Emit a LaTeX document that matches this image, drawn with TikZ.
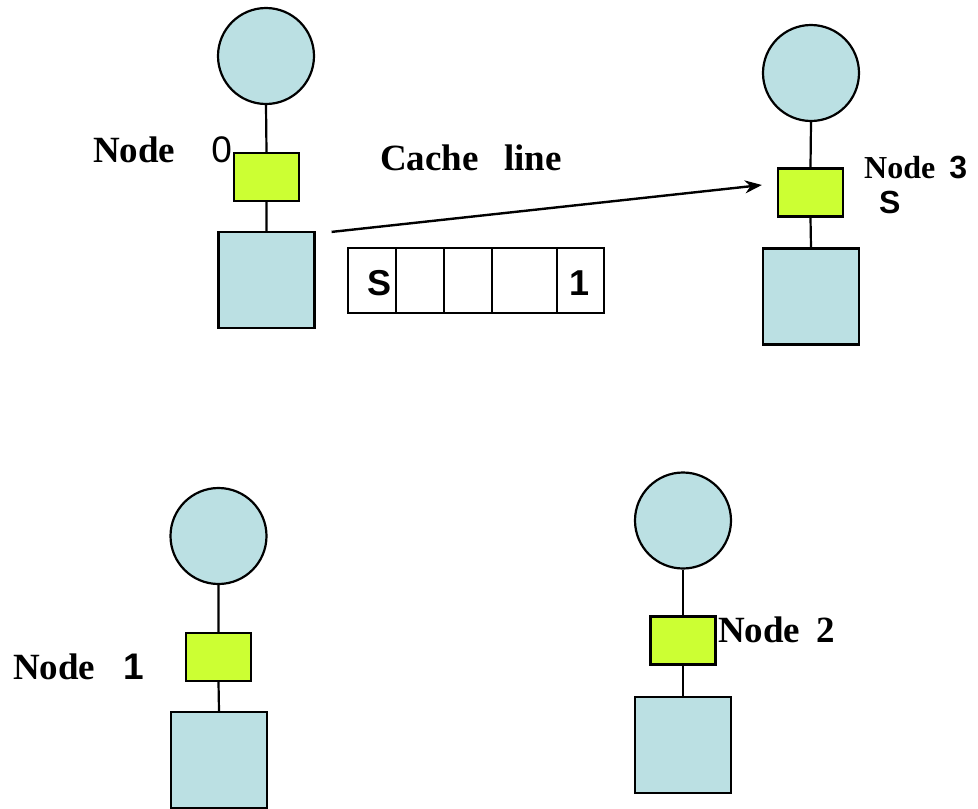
\documentclass[tikz,border=0pt]{standalone}
\usepackage{fontspec}
\setmainfont{Liberation Serif}
\newfontfamily\sansf{Liberation Sans}
\usetikzlibrary{arrows.meta,calc}
\definecolor{nodeblue}{HTML}{BBE0E3}
\definecolor{cachegreen}{HTML}{CCFF33}
\newcommand\bigserif{\fontsize{37pt}{40pt}\selectfont\bfseries}
\newcommand\midserif{\fontsize{32pt}{36pt}\selectfont\bfseries}
\begin{document}
\begin{tikzpicture}[x=1pt,y=-1pt,
  cpu/.style={circle,draw,fill=nodeblue,minimum size=96pt,inner sep=0pt,line width=2.2pt},
  cachebox/.style={rectangle,draw,fill=cachegreen,minimum width=65pt,minimum height=48pt,inner sep=0pt,line width=2.2pt},
  mem/.style={rectangle,draw,fill=nodeblue,minimum width=96pt,minimum height=96pt,inner sep=0pt,line width=2.2pt},
  link/.style={line width=2.2pt},
  cell/.style={rectangle,draw,minimum height=65pt,inner sep=0pt,line width=2.2pt,anchor=west},
  lbl/.style={inner sep=0pt,anchor=base west}]
\useasboundingbox (0,0) rectangle (978,809);
% Node 0
\node[cpu] (c0) at (266,56) {};
\node[cachebox] (k0) at (266.5,177) {};
\node[mem] (m0) at (266.5,280) {};
\draw[link] (c0.south) -- (k0.north) (k0.south) -- (m0.north);
% Node 3
\node[cpu] (c3) at (811,73) {};
\node[cachebox] (k3) at (810.5,192.5) {};
\node[mem] (m3) at (811,296.5) {};
\draw[link] (c3.south) -- (k3.north) (k3.south) -- (m3.north);
% Node 1
\node[cpu] (c1) at (218.5,536) {};
\node[cachebox] (k1) at (218.5,657) {};
\node[mem] (m1) at (219,760) {};
\draw[link] (c1.south) -- (k1.north) (k1.south) -- (m1.north);
% Node 2
\node[cpu] (c2) at (683,520.5) {};
\node[cachebox] (k2) at (683,640.5) {};
\node[mem] (m2) at (683,745) {};
\draw[link] (c2.south) -- (k2.north) (k2.south) -- (m2.north);
% cache line cells
\node[cell,minimum width=48pt] (s1) at (347,280.5) {};
\node[cell,minimum width=48pt] (s2) at (395,280.5) {};
\node[cell,minimum width=48pt] (s3) at (443,280.5) {};
\node[cell,minimum width=65pt] (s4) at (491,280.5) {};
\node[cell,minimum width=47pt] (s5) at (556,280.5) {};
\node[lbl] (sS) at (367,295) {\sansf\bfseries\fontsize{36pt}{40pt}\selectfont S};
\node[lbl] (s1t) at (569,295) {\sansf\bfseries\fontsize{36pt}{40pt}\selectfont 1};
% arrow
\coordinate (as) at ($(m0.north east)+(16,1)$);
\coordinate (ae) at ($(k3.west)+(-15,-7.5)$);
\draw[line width=2.4pt,-{Stealth[length=17pt,width=13pt]}] (as) -- (ae);
% labels
\node[lbl] (l0) at (93,162) {\bigserif Node\hspace{36pt}{\sansf\mdseries 0}};
\node[lbl] (lc) at (380,170) {\bigserif Cache\hspace{16pt} line};
\node[lbl] (l3) at (864,178) {\midserif Node\hspace{14pt}{\sansf 3}};
\node[lbl] (l3s) at (879,213) {\sansf\bfseries\fontsize{32pt}{36pt}\selectfont S};
\node[lbl] (l1) at (13,679) {\bigserif Node\hspace{28pt}{\sansf 1}};
\node[lbl] (l2) at (718,642) {\bigserif Node\hspace{16pt}2};
\end{tikzpicture}
\end{document}
